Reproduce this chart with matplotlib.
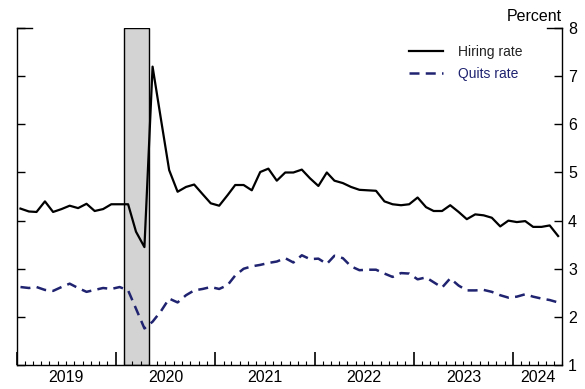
import matplotlib
matplotlib.use("Agg")
import matplotlib.pyplot as plt
import matplotlib.dates as mdates
import matplotlib.transforms as mtransforms
import pandas as pd

# monthly, Jan 2019 - Jun 2024, plotted mid-month
months = pd.date_range("2019-01-01", "2024-06-01", freq="MS") + pd.Timedelta(days=14)

hiring = [4.25, 4.19, 4.18, 4.40, 4.18, 4.24, 4.31, 4.26, 4.35, 4.20, 4.24, 4.34,
          4.34, 4.34, 3.77, 3.45, 7.20, 6.10, 5.05, 4.60, 4.70, 4.75, 4.55, 4.36,
          4.31, 4.53, 4.74, 4.74, 4.63, 5.01, 5.08, 4.83, 5.00, 5.00, 5.06, 4.88,
          4.72, 5.00, 4.83, 4.78, 4.70, 4.64, 4.63, 4.62, 4.40, 4.34, 4.32, 4.34,
          4.48, 4.28, 4.20, 4.20, 4.32, 4.18, 4.03, 4.13, 4.11, 4.06, 3.88, 4.00,
          3.97, 3.99, 3.87, 3.87, 3.90, 3.68]

quits = [2.62, 2.60, 2.62, 2.56, 2.54, 2.62, 2.69, 2.60, 2.52, 2.56, 2.60, 2.58,
         2.62, 2.55, 2.17, 1.76, 1.90, 2.12, 2.38, 2.30, 2.45, 2.55, 2.58, 2.62,
         2.58, 2.66, 2.86, 3.00, 3.05, 3.08, 3.12, 3.15, 3.22, 3.13, 3.28, 3.20,
         3.21, 3.10, 3.27, 3.22, 3.05, 2.97, 2.98, 2.98, 2.90, 2.83, 2.91, 2.90,
         2.78, 2.82, 2.72, 2.61, 2.80, 2.65, 2.55, 2.55, 2.56, 2.52, 2.45, 2.40,
         2.42, 2.47, 2.42, 2.38, 2.35, 2.30]

recession = ("2020-02-01", "2020-05-01")
years = [2019, 2020, 2021, 2022, 2023, 2024]
x_start = pd.Timestamp("2019-01-01")
x_end = pd.Timestamp("2024-07-01")

navy = "#1f2370"

plt.rcParams["font.family"] = "Liberation Sans"

fig = plt.figure(figsize=(5.85, 3.89), dpi=100)
ax = fig.add_axes([0.0285, 0.0617, 0.933, 0.866])

ax.axvspan(pd.Timestamp(recession[0]), pd.Timestamp(recession[1]),
           facecolor="#d3d3d3", edgecolor="black", lw=1, zorder=0)

ax.plot(months, hiring, color="black", lw=1.6, label="Hiring rate")
ax.plot(months, quits, color=navy, lw=1.8, dashes=(4, 2.5), label="Quits rate")

ax.set_xlim(x_start, x_end)
ax.set_ylim(1, 8)
ax.set_yticks(range(1, 9))

ax.spines["top"].set_visible(False)
for s in ["left", "right", "bottom"]:
    ax.spines[s].set_linewidth(1)

ax.tick_params(axis="y", which="both", left=True, right=True, labelleft=False,
               labelright=True, direction="in", length=5.5, width=1,
               labelsize=11.5, pad=4)

ax.xaxis.set_major_locator(mdates.YearLocator())
ax.xaxis.set_minor_locator(mdates.MonthLocator())
ax.tick_params(axis="x", which="major", direction="in", length=9.5, width=1.2,
               labelbottom=False)
ax.tick_params(axis="x", which="minor", direction="in", length=3, width=0.8)

# longer tick marks at the top (8)
trans_y = mtransforms.blended_transform_factory(ax.transAxes, ax.transData)
ax.plot([0, 0.028], [8, 8], color="black", lw=1, transform=trans_y, clip_on=False)
ax.plot([0.972, 1], [8, 8], color="black", lw=1, transform=trans_y, clip_on=False)

# year labels centered in each year
trans_x = mtransforms.blended_transform_factory(ax.transData, ax.transAxes)
for y in years:
    a = pd.Timestamp(f"{y}-01-01")
    b = min(pd.Timestamp(f"{y + 1}-01-01"), x_end)
    ax.text(a + (b - a) / 2, -0.015, str(y), transform=trans_x, ha="center",
            va="top", fontsize=11.5)

fig.text(562 / 585, 1 - 21 / 389, "Percent", ha="right", va="baseline", fontsize=11.5)

leg = ax.legend(loc="upper left", bbox_to_anchor=(409 / 585, 1 - 45 / 389),
                bbox_transform=fig.transFigure, frameon=False, fontsize=10,
                handlelength=2.45, handletextpad=1.05, borderpad=0,
                borderaxespad=0, labelspacing=0.55)
leg.get_texts()[0].set_color("#222222")
leg.get_texts()[1].set_color(navy)

fig.savefig("out.png", dpi=100)
